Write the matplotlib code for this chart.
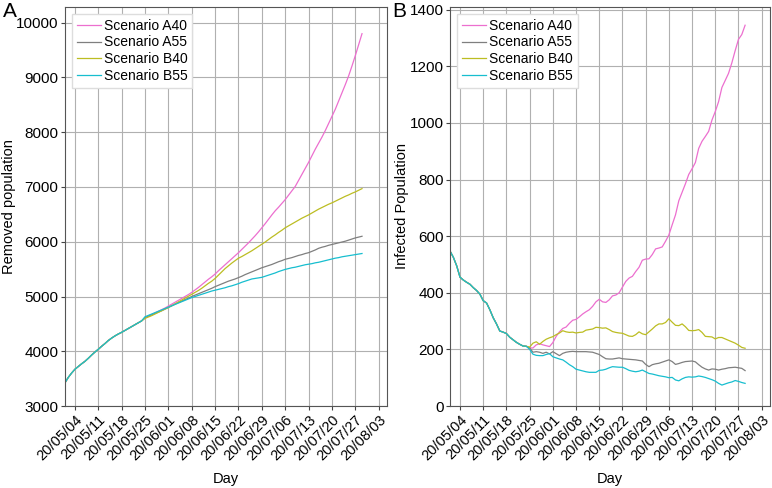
import pandas as pd
import matplotlib
matplotlib.use("Agg")
import matplotlib.pyplot as plt
import matplotlib.dates as mdates

plt.rcParams['font.family'] = ['Liberation Sans', 'DejaVu Sans']

# Days: 2020-05-01 .. 2020-07-29
days = pd.date_range('2020-05-01', '2020-07-29', freq='D')

labels = ['Scenario A40', 'Scenario A55', 'Scenario B40', 'Scenario B55']
colors = ['#ec6fcf', 'tab:gray', 'tab:olive', 'tab:cyan']

# Panel A: removed population
removed_shared = [3420, 3520, 3600, 3670, 3720, 3770, 3815, 3870, 3930, 3985,
                  4035, 4090, 4140, 4195, 4240, 4280, 4315, 4345, 4380, 4415,
                  4450, 4485, 4520, 4555]
removed_a40 = [4610, 4640, 4670, 4700, 4730, 4760, 4790, 4825, 4860, 4895,
               4930, 4965, 5000, 5035, 5075, 5120, 5165, 5215, 5265, 5315,
               5360, 5410, 5470, 5525, 5580, 5635, 5690, 5745, 5800, 5860,
               5920, 5980, 6045, 6110, 6180, 6255, 6330, 6410, 6490, 6565,
               6630, 6700, 6770, 6850, 6930, 7010, 7120, 7230, 7340, 7450,
               7570, 7690, 7800, 7910, 8030, 8160, 8290, 8420, 8570, 8720,
               8870, 9030, 9210, 9400, 9600, 9800]
removed_a55 = [4610, 4640, 4665, 4690, 4715, 4740, 4770, 4800, 4830, 4860,
               4890, 4915, 4945, 4970, 5000, 5025, 5050, 5075, 5100, 5125,
               5150, 5180, 5205, 5230, 5255, 5280, 5300, 5320, 5345, 5370,
               5400, 5425, 5450, 5475, 5500, 5525, 5545, 5565, 5585, 5610,
               5635, 5655, 5680, 5695, 5710, 5730, 5750, 5765, 5785, 5800,
               5825, 5850, 5880, 5900, 5915, 5935, 5950, 5965, 5980, 5995,
               6010, 6030, 6050, 6070, 6085, 6100]
removed_b40 = [4600, 4625, 4650, 4680, 4710, 4740, 4770, 4800, 4830, 4865,
               4900, 4935, 4970, 5005, 5040, 5075, 5110, 5150, 5195, 5240,
               5280, 5330, 5390, 5450, 5510, 5560, 5610, 5655, 5700, 5730,
               5765, 5800, 5835, 5875, 5915, 5955, 5995, 6040, 6085, 6125,
               6170, 6210, 6255, 6290, 6325, 6360, 6395, 6430, 6460, 6490,
               6525, 6560, 6595, 6625, 6655, 6685, 6710, 6740, 6770, 6800,
               6830, 6855, 6885, 6910, 6940, 6970]
removed_b55 = [4630, 4655, 4680, 4705, 4730, 4755, 4780, 4805, 4830, 4855,
               4880, 4905, 4930, 4955, 4980, 5000, 5020, 5040, 5060, 5080,
               5100, 5115, 5130, 5145, 5160, 5180, 5195, 5215, 5235, 5260,
               5280, 5300, 5320, 5330, 5340, 5350, 5370, 5390, 5410, 5430,
               5455, 5475, 5495, 5510, 5525, 5535, 5550, 5565, 5580, 5590,
               5600, 5615, 5625, 5640, 5655, 5670, 5685, 5700, 5710, 5725,
               5735, 5745, 5755, 5765, 5775, 5785]

# Panel B: infected population
infected_shared = [547, 525, 495, 455, 445, 437, 430, 418, 408, 395,
                   372, 364, 340, 312, 290, 265, 261, 256, 243, 234,
                   225, 218, 212, 211]
infected_a40 = [205, 205, 216, 220, 216, 213, 210, 224, 246, 262,
                274, 279, 292, 303, 306, 315, 325, 333, 340, 352,
                368, 377, 368, 366, 375, 389, 392, 400, 420, 440,
                452, 458, 475, 490, 515, 519, 520, 535, 555, 558,
                562, 582, 604, 640, 675, 725, 755, 785, 818, 838,
                860, 910, 935, 952, 970, 1010, 1040, 1075, 1125, 1150,
                1175, 1212, 1255, 1295, 1312, 1345]
infected_a55 = [205, 190, 192, 190, 186, 190, 184, 192, 185, 178,
                186, 190, 192, 193, 192, 192, 192, 192, 191, 190,
                186, 182, 174, 167, 166, 166, 168, 170, 167, 166,
                165, 164, 163, 161, 159, 147, 139, 146, 149, 151,
                155, 159, 163, 157, 147, 150, 154, 157, 158, 159,
                156, 146, 137, 131, 127, 131, 130, 127, 130, 132,
                135, 136, 137, 135, 133, 125]
infected_b40 = [208, 222, 227, 218, 228, 236, 241, 245, 252, 258,
                266, 262, 260, 261, 258, 260, 261, 268, 270, 272,
                278, 277, 275, 276, 270, 263, 260, 258, 257, 252,
                247, 246, 252, 262, 255, 252, 262, 272, 283, 290,
                290, 295, 308, 296, 285, 284, 290, 280, 267, 266,
                267, 270, 260, 246, 245, 244, 237, 242, 242, 237,
                232, 227, 222, 215, 207, 204]
infected_b55 = [200, 183, 179, 178, 178, 182, 185, 174, 170, 166,
                163, 155, 146, 139, 130, 127, 124, 121, 119, 119,
                119, 126, 127, 130, 135, 139, 138, 137, 137, 132,
                126, 123, 121, 123, 127, 121, 115, 113, 110, 107,
                105, 103, 100, 101, 92, 89, 96, 101, 103, 102,
                103, 106, 104, 101, 97, 93, 88, 80, 74, 78,
                82, 85, 90, 87, 83, 80]

tick_dates = pd.date_range('2020-05-04', '2020-08-03', freq='7D')

fig = plt.figure(figsize=(7.72, 4.88), dpi=100)
axA = fig.add_axes([0.084, 0.168, 0.417, 0.818])
axB = fig.add_axes([0.583, 0.168, 0.414, 0.818])

panels = [
    (axA, removed_shared, [removed_a40, removed_a55, removed_b40, removed_b55],
     'Removed population', (3000, 10290), range(3000, 10001, 1000), -0.153),
    (axB, infected_shared, [infected_a40, infected_a55, infected_b40, infected_b55],
     'Infected Population', (0, 1410), range(0, 1401, 200), -0.13),
]

for ax, shared, series, ylab, ylim, yticks, ylab_x in panels:
    for vals, lab, col in zip(series, labels, colors):
        ax.plot(days, shared + vals, color=col, lw=0.9, label=lab)
    ax.set_xlim(pd.Timestamp('2020-05-01'), pd.Timestamp('2020-08-05 10:00'))
    ax.set_ylim(*ylim)
    ax.set_yticks(list(yticks))
    ax.set_xticks(tick_dates)
    ax.xaxis.set_major_formatter(mdates.DateFormatter('%y/%m/%d'))
    for t in ax.get_xticklabels():
        t.set_rotation(45)
        t.set_ha('right')
        t.set_rotation_mode('anchor')
    ax.tick_params(axis='y', labelsize=11, length=3, color='#444444', pad=1.5)
    ax.tick_params(axis='x', labelsize=10.5, length=3, color='#444444', pad=2)
    ax.grid(True, color='#b0b0b0', lw=0.8)
    for s in ax.spines.values():
        s.set_color('#555555')
    ax.set_xlabel('Day', fontsize=10.5, labelpad=6)
    ax.set_ylabel(ylab, fontsize=10.5)
    ax.yaxis.set_label_coords(ylab_x, 0.5)
    leg = ax.legend(loc='upper left', fontsize=10, handlelength=1.75,
                    handletextpad=0.2, labelspacing=0.2, borderpad=0.35,
                    fancybox=False, framealpha=1)
    leg.get_frame().set_edgecolor('#dddddd')

fig.text(0.004, 0.965, 'A', fontsize=15)
fig.text(0.508, 0.965, 'B', fontsize=15)

fig.savefig('out.png', dpi=100)
